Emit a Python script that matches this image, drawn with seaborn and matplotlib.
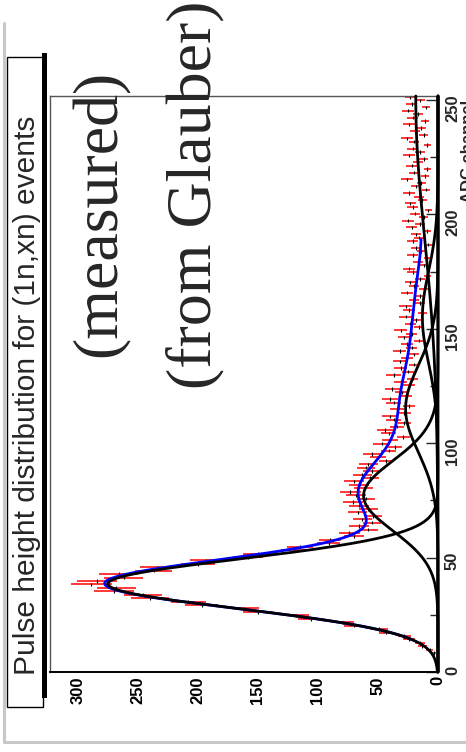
import numpy as np
import pandas as pd
import matplotlib
matplotlib.use("Agg")
import matplotlib.pyplot as plt
import seaborn as sns
from matplotlib.patches import Rectangle
from matplotlib.lines import Line2D
from matplotlib.ticker import MultipleLocator

# ---------------- data ----------------
title = "Pulse height distribution for (1n,xn) events"
note_measured = "(measured)"
note_glauber = "(from Glauber)"
adc_label = "ADC channel"

bin_width = 1.5
counts = [
    0, 0, 0, 0, 0, 3, 7, 13, 15, 24,
    28, 43, 49, 70, 79, 106, 118, 150, 162, 197,
    208, 240, 246, 270, 268, 289, 284, 262, 266, 237,
    233, 200, 193, 158, 150, 120, 115, 91, 90, 70,
    74, 58, 66, 55, 63, 54, 67, 58, 66, 71,
    60, 68, 73, 62, 66, 70, 57, 63, 55, 60,
    58, 43, 50, 55, 41, 36, 47, 40, 29, 41,
    44, 34, 28, 37, 40, 28, 34, 24, 37, 40,
    27, 30, 38, 24, 31, 21, 37, 25, 31, 20,
    32, 26, 20, 32, 22, 26, 16, 28, 22, 31,
    16, 23, 18, 27, 13, 24, 27, 15, 20, 15,
    26, 12, 20, 23, 15, 9, 21, 24, 12, 17,
    9, 21, 14, 18, 8, 21, 16, 18, 9, 22,
    15, 25, 12, 19, 8, 21, 23, 13, 16, 24,
    10, 18, 14, 26, 11, 20, 9, 22, 17, 12,
    24, 15, 21, 9, 20, 26, 12, 19, 14, 24,
    11, 21, 17, 25, 10, 22, 15, 23,
]

# Gaussian components of the fit (1n, 2n, 3n, 4n, rest)
peak_amp = [275.0, 62.0, 27.0, 13.0, 18.5]
peak_mean = [38.5, 77.0, 115.0, 155.0, 250.0]
peak_sigma = [10.8, 15.3, 19.0, 20.0, 60.0]
fit_lo, fit_hi = 14.0, 189.0

count_ticks = [0, 50, 100, 150, 200, 250, 300]
adc_ticks = [0, 50, 100, 150, 200, 250]
count_max = 323.3
adc_max = 251.7

# ---------------- figure ----------------
sns.set_style("white")
plt.rcParams["font.family"] = ["Liberation Sans", "DejaVu Sans"]

W, H = 466, 752
fig = plt.figure(figsize=(W / 100, H / 100), dpi=100)
fig.patch.set_facecolor("white")


def fx(x):
    return x / W


def fy(y):
    return 1 - y / H


ax = fig.add_axes([fx(50), fy(672), 388 / W, 576 / H])
ax.set_facecolor("white")

counts_arr = np.array(counts, dtype=float)
centers = bin_width * (np.arange(len(counts_arr)) + 0.5)
mask = counts_arr > 0
cnt = counts_arr[mask]
cen = centers[mask]

# data: red error bars along counts, black bin-width bars along ADC
ax.errorbar(cnt, cen, xerr=np.sqrt(cnt), fmt="none", ecolor="#ff0000",
            elinewidth=1.1, capsize=0, zorder=2)
ax.errorbar(cnt, cen, yerr=bin_width / 2, fmt="none", ecolor="black",
            elinewidth=0.8, capsize=0, zorder=2)

# fit curves
grid = np.linspace(0, adc_max, 800)
comp_frames = []
for k, (a, m, s) in enumerate(zip(peak_amp, peak_mean, peak_sigma)):
    comp_frames.append(pd.DataFrame({
        "adc": grid,
        "counts": a * np.exp(-0.5 * ((grid - m) / s) ** 2),
        "comp": f"g{k}",
    }))
comp_df = pd.concat(comp_frames, ignore_index=True)

fgrid = np.linspace(fit_lo, fit_hi, 600)
total = np.zeros_like(fgrid)
for a, m, s in zip(peak_amp, peak_mean, peak_sigma):
    total += a * np.exp(-0.5 * ((fgrid - m) / s) ** 2)
sum_df = pd.DataFrame({"adc": fgrid, "counts": total})

sns.lineplot(data=sum_df, x="counts", y="adc", orient="y", sort=False,
             estimator=None, color="#0000ff", lw=2.0, ax=ax, zorder=3)
sns.lineplot(data=comp_df, x="counts", y="adc", units="comp", orient="y",
             sort=False, estimator=None, color="black", lw=2.0, ax=ax,
             zorder=4, legend=False)
for ln in ax.lines:
    ln.set_clip_on(False)

ax.set_xlim(count_max, 0)
ax.set_ylim(0, adc_max)
ax.set_xlabel("")
ax.set_ylabel("")

# spines
for side in ["left", "top"]:
    ax.spines[side].set_color("#555555")
    ax.spines[side].set_linewidth(1.0)
for side in ["right", "bottom"]:
    ax.spines[side].set_color("black")
    ax.spines[side].set_linewidth(1.4)

# counts axis (bottom)
ax.set_xticks(count_ticks)
ax.set_xticklabels([str(v) for v in count_ticks])
ax.xaxis.set_minor_locator(MultipleLocator(25))
ax.tick_params(axis="x", which="major", direction="in", length=13, width=1,
               labelrotation=90, pad=3, labelsize=12, colors="black")
ax.tick_params(axis="x", which="minor", direction="in", length=6.5, width=1)

# ADC axis (right)
ax.yaxis.tick_right()
ax.set_yticks(adc_ticks)
ax.set_yticklabels([str(v) for v in adc_ticks])
ax.yaxis.set_minor_locator(MultipleLocator(25))
ax.tick_params(axis="y", which="major", direction="in", length=8.6, width=1,
               labelrotation=90, pad=5, labelsize=12, left=False, right=True,
               labelleft=False, labelright=True)
ax.tick_params(axis="y", which="minor", direction="in", length=6, width=1,
               left=False, right=True)
for lab in ax.get_xticklabels() + ax.get_yticklabels():
    lab.set_fontweight("bold")

fig.text(fx(473), fy(100), adc_label, rotation=90, rotation_mode="anchor",
         ha="right", va="baseline", fontsize=12, fontweight="bold")

# outer pad border
fig.add_artist(Line2D([fx(4), fx(4)], [fy(23), fy(742)], color="#c8c8c8",
                      lw=2.2, transform=fig.transFigure))
fig.add_artist(Line2D([fx(4), fx(466)], [fy(742), fy(742)], color="#c8c8c8",
                      lw=2.2, transform=fig.transFigure))

# title box with shadow (shadow only visible on the right side)
fig.add_artist(Rectangle((fx(7), fy(707)), 36 / W, 650 / H,
                         transform=fig.transFigure, facecolor="white",
                         edgecolor="black", lw=1.0))
fig.add_artist(Rectangle((fx(42), fy(698)), 4.5 / W, 645 / H,
                         transform=fig.transFigure, facecolor="black",
                         edgecolor="black", lw=0))
fig.text(fx(35), fy(395), title, rotation=90, rotation_mode="anchor",
         ha="center", va="baseline", fontsize=21.5)

serif = ["Liberation Serif", "DejaVu Serif"]
fig.text(fx(115.5), fy(213.5), note_measured, rotation=90,
         rotation_mode="anchor", ha="center", va="baseline", fontsize=46,
         family=serif)
fig.text(fx(210.5), fy(195), note_glauber, rotation=90,
         rotation_mode="anchor", ha="center", va="baseline", fontsize=46,
         family=serif)

fig.savefig("out.png", dpi=100)
